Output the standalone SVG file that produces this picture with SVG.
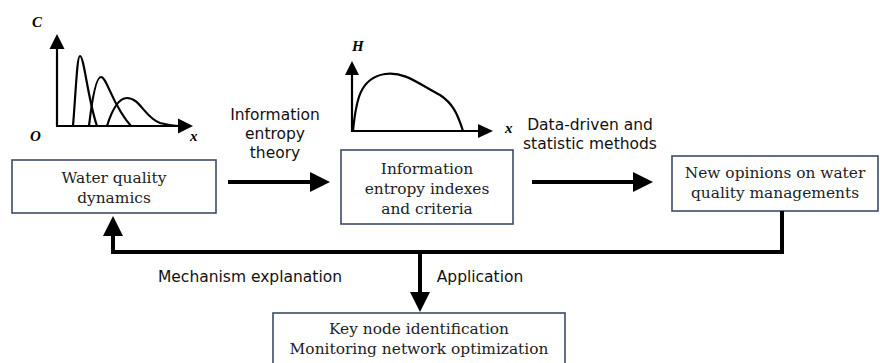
<svg xmlns="http://www.w3.org/2000/svg" width="880" height="363" viewBox="0 0 880 363">
<style>
.box{fill:#fff;stroke:#3f4a6b;stroke-width:1.6}
.bt{font-family:"DejaVu Serif","Liberation Serif",serif;font-size:15.4px;fill:#222;text-anchor:middle}
.lt{font-family:"DejaVu Sans","Liberation Sans",sans-serif;font-size:15.5px;fill:#111;text-anchor:middle}
.ax{font-family:"Liberation Serif",serif;font-size:15px;font-weight:bold;font-style:italic;fill:#000}
.ln{fill:none;stroke:#000;stroke-width:4}
.cv{fill:none;stroke:#000;stroke-width:2.2}
.ar{fill:#000}
</style>
<g id="plot-c">
<line class="cv" x1="57" y1="126" x2="57" y2="48" stroke-width="3"/>
<polygon class="ar" points="57,34 49.5,49 64.5,49"/>
<line class="cv" x1="56" y1="126" x2="180" y2="126" stroke-width="3"/>
<polygon class="ar" points="193,126 178,118.5 178,133.5"/>
<path class="cv" d="M73,126 C76,90 77,56 80,56 C84,56 88,100 97,126"/>
<path class="cv" d="M89,126 C92,100 96,77 101,77 C107,77 112,105 131,126"/>
<path class="cv" d="M107,126 C112,110 118,98 127,98 C140,98 145,118 160,123 C168,125 175,126 180,126"/>
<text class="ax" x="32" y="27">C</text>
<text class="ax" x="30" y="141">O</text>
<text class="ax" x="190" y="141">x</text>
</g>
<g id="plot-h">
<line class="cv" x1="352" y1="131" x2="352" y2="74" stroke-width="3"/>
<polygon class="ar" points="352,61 345,75 359,75"/>
<line class="cv" x1="351" y1="131" x2="480" y2="131" stroke-width="3"/>
<polygon class="ar" points="493,131 478,124 478,138"/>
<path class="cv" d="M353,131 C356,100 360,78 385,74 C405,71 420,85 440,95 C452,103 457,112 463,131"/>
<text class="ax" x="352" y="51">H</text>
<text class="ax" x="505" y="133">x</text>
</g>
<g id="water">
<rect class="box" x="12" y="160" width="204" height="53"/>
<text class="bt" x="114" y="183">Water quality</text>
<text class="bt" x="114" y="203">dynamics</text>
</g>
<g id="entropy">
<rect class="box" x="341" y="150" width="172" height="74"/>
<text class="bt" x="427" y="174">Information</text>
<text class="bt" x="427" y="194">entropy indexes</text>
<text class="bt" x="427" y="214">and criteria</text>
</g>
<g id="opinions">
<rect class="box" x="672" y="156" width="206" height="55"/>
<text class="bt" x="775" y="178">New opinions on water</text>
<text class="bt" x="775" y="198">quality managements</text>
</g>
<g id="keynode">
<rect class="box" x="273" y="313" width="292" height="52"/>
<text class="bt" x="419" y="334">Key node identification</text>
<text class="bt" x="419" y="354">Monitoring network optimization</text>
</g>
<g id="connectors">
<line class="ln" x1="228" y1="182" x2="312" y2="182"/>
<polygon class="ar" points="330,182 310,172 310,192"/>
<line class="ln" x1="532" y1="182" x2="636" y2="182"/>
<polygon class="ar" points="653,182 633,172 633,192"/>
<polyline class="ln" points="782,211 782,252 113,252 113,234"/>
<polygon class="ar" points="113,216 103,236 123,236"/>
<line class="ln" x1="420" y1="252" x2="420" y2="294"/>
<polygon class="ar" points="420,312 410,292 430,292"/>
<text class="lt" x="275" y="120">Information</text>
<text class="lt" x="275" y="139">entropy</text>
<text class="lt" x="275" y="158">theory</text>
<text class="lt" x="590" y="130">Data-driven and</text>
<text class="lt" x="590" y="149">statistic methods</text>
<text class="lt" x="250" y="282">Mechanism explanation</text>
<text class="lt" x="480" y="282">Application</text>
</g>
</svg>
